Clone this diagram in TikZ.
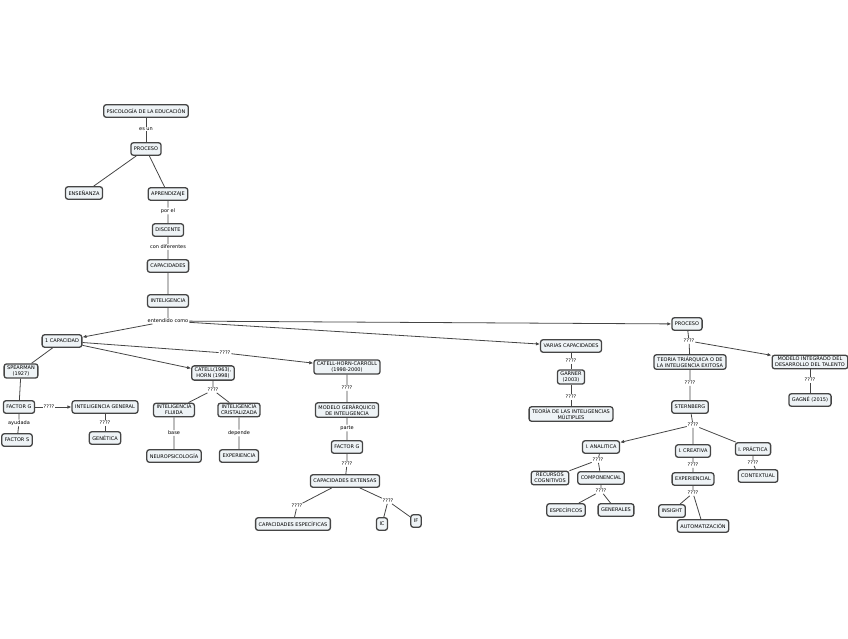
\documentclass[tikz,border=0pt]{standalone}
\usepackage{fontspec}
\setmainfont{DejaVu Sans}
\usepackage{tikz}
\usetikzlibrary{arrows.meta,positioning}

\definecolor{boxfill}{HTML}{EEF3F6}
\definecolor{boxline}{HTML}{454545}

\begin{document}
\begin{tikzpicture}[
  font=\fontsize{5}{5.8}\selectfont,
  on grid,
  concept/.style={draw=boxline, fill=boxfill, rounded corners=2.5pt, line width=1.3pt,
    align=center, inner xsep=3pt, inner ysep=2pt, minimum height=12.5pt},
  linkword/.style={inner sep=0.8pt, fill=white, align=center},
  link/.style={draw=boxline, line width=0.8pt},
  arrow/.style={link, -{Latex[length=4pt,width=3.5pt]}}
]
\useasboundingbox (0,0) rectangle (848pt,-638pt);
% upper chain
\node[concept] (psico) at (146pt,-111pt) {PSICOLOGÍA DE LA EDUCACIÓN};
\node[linkword, below=18pt of psico] (esun) {es un};
\node[concept, below=20pt of esun] (proceso) {PROCESO};
\node[concept, below left=44pt and 62pt of proceso] (ensenanza) {ENSEÑANZA};
\node[concept, below right=45pt and 22pt of proceso] (aprendizaje) {APRENDIZAJE};
\node[linkword, below=17pt of aprendizaje] (porel) {por el};
\node[concept, below=19pt of porel] (discente) {DISCENTE};
\node[linkword, below=17pt of discente] (condif) {con diferentes};
\node[concept, below=19pt of condif] (capacidades) {CAPACIDADES};
\node[concept, below=35pt of capacidades] (inteligencia) {INTELIGENCIA};
\node[linkword, below=20pt of inteligencia] (entendido) {entendido como};
% three views
\node[concept, below left=20pt and 106pt of entendido] (unacap) {1 CAPACIDAD};
\node[concept, below right=25pt and 403pt of entendido] (varias) {VARIAS CAPACIDADES};
\node[concept, below right=3pt and 519pt of entendido] (procesodos) {PROCESO};
% 1 capacidad
\node[concept, below left=30pt and 41pt of unacap] (spearman) {SPEARMAN\\(1927)};
\node[concept, below right=32pt and 151pt of unacap] (catell) {CATELL(1963),\\HORN (1998)};
\node[linkword, below right=12pt and 163pt of unacap] (qa) {????};
\node[concept, below right=14pt and 122pt of qa] (chc) {CATELL-HORN-CARROLL\\(1998-2000)};
\node[concept, below left=36pt and 2pt of spearman] (factorg) {FACTOR G};
\node[linkword, right=30pt of factorg] (qb) {????};
\node[concept, right=56pt of qb] (intgen) {INTELIGENCIA GENERAL};
\node[linkword, below=16pt of intgen] (qc) {????};
\node[concept, below=15pt of qc] (genetica) {GENÉTICA};
\node[linkword, below=16pt of factorg] (ayudada) {ayudada};
\node[concept, below left=17pt and 2pt of ayudada] (factors) {FACTOR S};
\node[linkword, below=17pt of catell] (qd) {????};
\node[concept, below left=20pt and 39pt of qd] (fluida) {INTELIGENCIA\\FLUIDA};
\node[concept, below right=20pt and 26pt of qd] (cristal) {INTELIGENCIA\\CRISTALIZADA};
\node[linkword, below=23pt of fluida] (base) {base};
\node[concept, below=23pt of base] (neuro) {NEUROPSICOLOGÍA};
\node[linkword, below=23pt of cristal] (depende) {depende};
\node[concept, below=23pt of depende] (experiencia) {EXPERIENCIA};
\node[linkword, below=21pt of chc] (qe) {????};
\node[concept, below=22pt of qe] (jerarquico) {MODELO GERÁRQUICO\\DE INTELIGENCIA};
\node[linkword, below=18pt of jerarquico] (parte) {parte};
\node[concept, below=19pt of parte] (factorgdos) {FACTOR G};
\node[linkword, below=17pt of factorgdos] (qf) {????};
\node[concept, below left=17pt and 2pt of qf] (extensas) {CAPACIDADES EXTENSAS};
\node[linkword, below left=25pt and 48pt of extensas] (qg) {????};
\node[concept, below left=18pt and 4pt of qg] (especificas) {CAPACIDADES ESPECÍFICAS};
\node[linkword, below right=20pt and 43pt of extensas] (qh) {????};
\node[concept, below left=23pt and 6pt of qh] (ic) {IC};
\node[concept, below right=20pt and 28pt of qh] (if) {IF};
% varias capacidades
\node[linkword, below=15pt of varias] (qi) {????};
\node[concept, below=16pt of qi] (garner) {GARNER\\(2003)};
\node[linkword, below=20pt of garner] (qj) {????};
\node[concept, below=17pt of qj] (multiples) {TEORÍA DE LAS INTELIGENCIAS\\MÚLTIPLES};
% proceso
\node[linkword, below right=17pt and 2pt of procesodos] (qk) {????};
\node[concept, below right=21pt and 1pt of qk] (triarquica) {TEORIA TRIÁRQUICA O DE\\LA INTELIGENCIA EXITOSA};
\node[concept, below right=21pt and 121pt of qk] (talento) {MODELO INTEGRADO DEL\\DESARROLLO DEL TALENTO};
\node[linkword, below=18pt of talento] (ql) {????};
\node[concept, below=20pt of ql] (gagne) {GAGNÉ (2015)};
\node[linkword, below=21pt of triarquica] (qm) {????};
\node[concept, below=24pt of qm] (sternberg) {STERNBERG};
\node[linkword, below right=18pt and 3pt of sternberg] (qn) {????};
\node[concept, below left=22pt and 92pt of qn] (analitica) {I. ANALITICA};
\node[concept, below=26pt of qn] (creativa) {I. CREATIVA};
\node[concept, below right=24pt and 60pt of qn] (practica) {I. PRÁCTICA};
\node[linkword, below=14pt of practica] (qo) {????};
\node[concept, below right=13pt and 5pt of qo] (contextual) {CONTEXTUAL};
\node[linkword, below left=13pt and 3pt of analitica] (qp) {????};
\node[concept, below left=18pt and 48pt of qp] (recursos) {RECURSOS\\COGNITIVOS};
\node[concept, below right=18pt and 3pt of qp] (componencial) {COMPONENCIAL};
\node[linkword, below=13pt of componencial] (qq) {????};
\node[concept, below left=19pt and 35pt of qq] (especificos) {ESPECÍFICOS};
\node[concept, below right=19pt and 15pt of qq] (generales) {GENERALES};
\node[linkword, below=14pt of creativa] (qr) {????};
\node[concept, below=14pt of qr] (experiencial) {EXPERIENCIAL};
\node[linkword, below=14pt of experiencial] (qs) {????};
\node[concept, below left=18pt and 21pt of qs] (insight) {INSIGHT};
\node[concept, below right=33pt and 10pt of qs] (automat) {AUTOMATIZACIÓN};
% connectors
\draw[link] (psico) -- (esun) -- (proceso);
\draw[link] (proceso) -- (ensenanza);
\draw[link] (proceso) -- (aprendizaje) -- (porel) -- (discente) -- (condif) -- (capacidades) -- (inteligencia) -- (entendido);
\draw[arrow] (entendido) -- (unacap);
\draw[arrow] (entendido) -- (varias);
\draw[arrow] (entendido) -- (procesodos);
\draw[link] (unacap) -- (spearman) -- (factorg) -- (ayudada) -- (factors);
\draw[link] (factorg) -- (qb);
\draw[arrow] (qb) -- (intgen);
\draw[link] (intgen) -- (qc) -- (genetica);
\draw[arrow] (unacap) -- (catell);
\draw[link] (unacap) -- (qa);
\draw[arrow] (qa) -- (chc);
\draw[link] (catell) -- (qd) -- (fluida) -- (base) -- (neuro);
\draw[link] (qd) -- (cristal) -- (depende) -- (experiencia);
\draw[link] (chc) -- (qe) -- (jerarquico) -- (parte) -- (factorgdos) -- (qf) -- (extensas);
\draw[link] (extensas) -- (qg) -- (especificas);
\draw[link] (extensas) -- (qh) -- (ic);
\draw[link] (qh) -- (if);
\draw[link] (varias) -- (qi) -- (garner) -- (qj) -- (multiples);
\draw[link] (procesodos) -- (qk) -- (triarquica) -- (qm) -- (sternberg) -- (qn);
\draw[arrow] (qk) -- (talento);
\draw[link] (talento) -- (ql) -- (gagne);
\draw[arrow] (qn) -- (analitica);
\draw[link] (qn) -- (creativa) -- (qr) -- (experiencial) -- (qs) -- (insight);
\draw[link] (qs) -- (automat);
\draw[link] (qn) -- (practica) -- (qo) -- (contextual);
\draw[link] (analitica) -- (qp) -- (recursos);
\draw[link] (qp) -- (componencial) -- (qq) -- (especificos);
\draw[link] (qq) -- (generales);
\end{tikzpicture}
\end{document}
